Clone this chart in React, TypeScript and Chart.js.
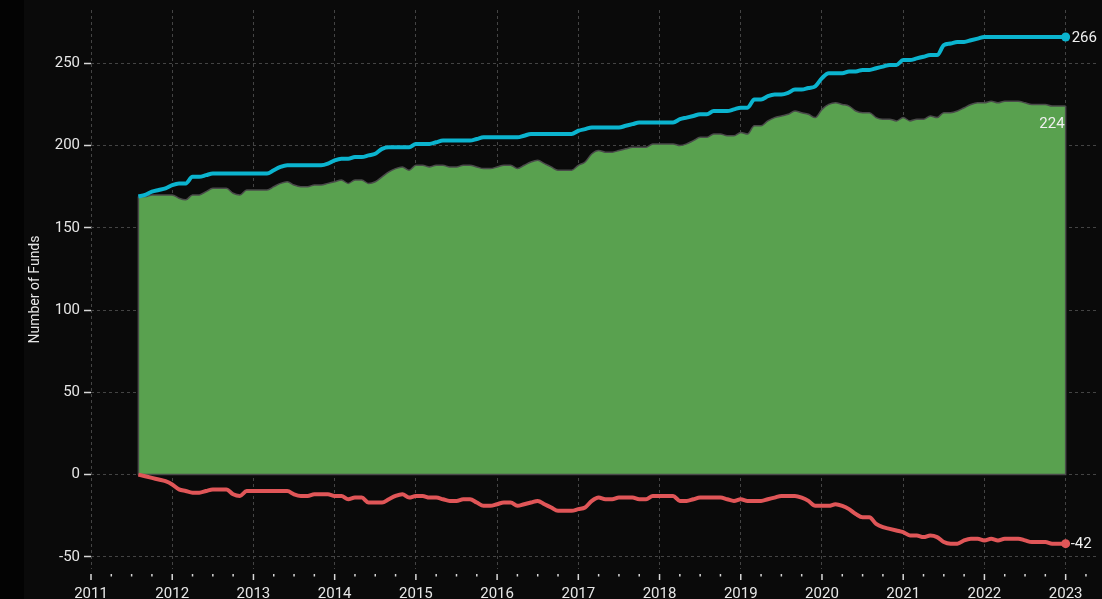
import { useEffect, useRef } from "react";
import { Chart, registerables } from "chart.js";

Chart.register(...registerables);

// First month of the series and the month count follow from the arrays
const startYear = 2011;
const startMonth = 8; // August 2011, monthly to January 2023

// Funds added (cumulative)
const added = [
  169, 170, 172, 173, 174, 176, 177, 177, 181, 181,
  182, 183, 183, 183, 183, 183, 183, 183, 183, 183,
  185, 187, 188, 188, 188, 188, 188, 188, 189, 191,
  192, 192, 193, 193, 194, 195, 198, 199, 199, 199,
  199, 201, 201, 201, 202, 203, 203, 203, 203, 203,
  204, 205, 205, 205, 205, 205, 205, 206, 207, 207,
  207, 207, 207, 207, 207, 209, 210, 211, 211, 211,
  211, 211, 212, 213, 214, 214, 214, 214, 214, 214,
  216, 217, 218, 219, 219, 221, 221, 221, 222, 223,
  223, 228, 228, 230, 231, 231, 232, 234, 234, 235,
  236, 241, 244, 244, 244, 245, 245, 246, 246, 247,
  248, 249, 249, 252, 252, 253, 254, 255, 255, 261,
  262, 263, 263, 264, 265, 266, 266, 266, 266, 266,
  266, 266, 266, 266, 266, 266, 266, 266,
];

// Funds removed (cumulative, negative)
const removed = [
  0, -1, -2, -3, -4, -6, -9, -10, -11, -11,
  -10, -9, -9, -9, -12, -13, -10, -10, -10, -10,
  -10, -10, -10, -12, -13, -13, -12, -12, -12, -13,
  -13, -15, -14, -14, -17, -17, -17, -15, -13, -12,
  -14, -13, -13, -14, -14, -15, -16, -16, -15, -15,
  -17, -19, -19, -18, -17, -17, -19, -18, -17, -16,
  -18, -20, -22, -22, -22, -21, -20, -16, -14, -15,
  -15, -14, -14, -14, -15, -15, -13, -13, -13, -13,
  -16, -16, -15, -14, -14, -14, -14, -15, -16, -15,
  -16, -16, -16, -15, -14, -13, -13, -13, -14, -16,
  -19, -19, -19, -18, -19, -21, -24, -26, -26, -30,
  -32, -33, -34, -35, -37, -37, -38, -37, -38, -41,
  -42, -42, -40, -39, -39, -40, -39, -40, -39, -39,
  -39, -40, -41, -41, -41, -42, -42, -42,
];

// Net number of funds
const net = [
  169, 169, 170, 170, 170, 170, 168, 167, 170, 170,
  172, 174, 174, 174, 171, 170, 173, 173, 173, 173,
  175, 177, 178, 176, 175, 175, 176, 176, 177, 178,
  179, 177, 179, 179, 177, 178, 181, 184, 186, 187,
  185, 188, 188, 187, 188, 188, 187, 187, 188, 188,
  187, 186, 186, 187, 188, 188, 186, 188, 190, 191,
  189, 187, 185, 185, 185, 188, 190, 195, 197, 196,
  196, 197, 198, 199, 199, 199, 201, 201, 201, 201,
  200, 201, 203, 205, 205, 207, 207, 206, 206, 208,
  207, 212, 212, 215, 217, 218, 219, 221, 220, 219,
  217, 222, 225, 226, 225, 224, 221, 220, 220, 217,
  216, 216, 215, 217, 215, 216, 216, 218, 217, 220,
  220, 221, 223, 225, 226, 226, 227, 226, 227, 227,
  227, 226, 225, 225, 225, 224, 224, 224,
];

const yTickStep = 50;
const xMin = 2011;
const xMax = 2023.39;
const yMin = -57.4;
const yMax = 282.4;

const BLUE = "#0bb4cf";
const RED = "#e05658";
const GREEN = "#59a14f";
const TEXT = "#e6e6e6";
const GRID = "#444444";
const FONT = "Roboto, 'DejaVu Sans', sans-serif";

const toYear = (i: number) => startYear + (startMonth - 1 + i) / 12;
const pts = (arr: number[]) => arr.map((v, i) => ({ x: toYear(i), y: v }));

const overlay = {
  id: "overlay",
  afterDatasetDraw(chart: any, args: any) {
    if (args.index !== 0) return;
    const data = args.meta.data;
    if (!data.length) return;
    const first = data[0];
    const last = data[data.length - 1];
    const y0 = chart.scales.y.getPixelForValue(0);
    const ctx = chart.ctx;
    ctx.save();
    ctx.strokeStyle = "#4a4a4a";
    ctx.lineWidth = 1.5;
    ctx.beginPath();
    ctx.moveTo(first.x, first.y);
    ctx.lineTo(first.x, y0);
    ctx.lineTo(last.x, y0);
    ctx.lineTo(last.x, last.y);
    ctx.stroke();
    ctx.restore();
  },
  afterDraw(chart: any) {
    const ctx = chart.ctx;
    const xs = chart.scales.x;
    const bottom = chart.chartArea.bottom;
    ctx.save();
    ctx.strokeStyle = "#d8d8d8";
    ctx.lineWidth = 1.5;
    for (const t of xs.ticks) {
      const px = xs.getPixelForValue(t.value);
      const major = Math.abs(t.value - Math.round(t.value)) < 1e-6;
      ctx.beginPath();
      ctx.moveTo(px, bottom + 5);
      ctx.lineTo(px, bottom + (major ? 11 : 7.5));
      ctx.stroke();
    }
    ctx.fillStyle = "#f0f0f0";
    ctx.font = `15px ${FONT}`;
    ctx.textBaseline = "middle";
    const addMeta = chart.getDatasetMeta(1).data;
    const remMeta = chart.getDatasetMeta(2).data;
    const netMeta = chart.getDatasetMeta(0).data;
    const a = addMeta[addMeta.length - 1];
    const r = remMeta[remMeta.length - 1];
    const n = netMeta[netMeta.length - 1];
    ctx.textAlign = "left";
    ctx.fillText(String(added[added.length - 1]), a.x + 6, a.y + 1);
    ctx.fillText(String(removed[removed.length - 1]), r.x + 5, r.y + 1);
    ctx.textAlign = "right";
    ctx.fillText(String(net[net.length - 1]), n.x - 1, n.y + 18);
    ctx.restore();
  },
};

export default function App() {
  const ref = useRef<HTMLCanvasElement | null>(null);

  useEffect(() => {
    if (!ref.current) return;
    const lastIdx = added.length - 1;
    const chart = new Chart(ref.current, {
      type: "line",
      data: {
        datasets: [
          {
            label: "Net",
            data: pts(net),
            borderColor: "#4a4a4a",
            borderWidth: 1.5,
            backgroundColor: GREEN,
            fill: "origin",
            pointRadius: 0,
            cubicInterpolationMode: "monotone",
            order: 3,
          },
          {
            label: "Added",
            data: pts(added),
            borderColor: BLUE,
            borderWidth: 4,
            fill: false,
            pointRadius: (c: any) => (c.dataIndex === lastIdx ? 4.5 : 0),
            pointBackgroundColor: BLUE,
            pointBorderWidth: 0,
            cubicInterpolationMode: "monotone",
            order: 1,
          },
          {
            label: "Removed",
            data: pts(removed),
            borderColor: RED,
            borderWidth: 4,
            fill: false,
            pointRadius: (c: any) => (c.dataIndex === lastIdx ? 4.5 : 0),
            pointBackgroundColor: RED,
            pointBorderWidth: 0,
            cubicInterpolationMode: "monotone",
            order: 2,
          },
        ],
      },
      options: {
        animation: false,
        responsive: false,
        events: [],
        layout: { padding: { top: 7, right: 0, left: 0, bottom: 0 } },
        plugins: { legend: { display: false }, tooltip: { enabled: false } },
        scales: {
          x: {
            type: "linear",
            min: xMin,
            max: xMax,
            border: { display: false, dash: [3, 3] },
            grid: {
              drawTicks: false,
              color: (c: any) =>
                Math.abs(c.tick.value - Math.round(c.tick.value)) < 1e-6 ? GRID : "rgba(0,0,0,0)",
              lineWidth: 1,
            },
            ticks: {
              stepSize: 0.25,
              includeBounds: false,
              autoSkip: false,
              maxRotation: 0,
              padding: 16,
              color: TEXT,
              font: { size: 15, family: FONT },
              callback: (v: any) => {
                const n = Number(v);
                return Math.abs(n - Math.round(n)) < 1e-6 ? String(Math.round(n)) : "";
              },
            },
            afterFit: (s: any) => {
              s.height = 30;
            },
          },
          y: {
            type: "linear",
            min: yMin,
            max: yMax,
            border: { display: false, dash: [3, 3] },
            grid: {
              color: GRID,
              lineWidth: 1,
              drawTicks: true,
              tickLength: 7,
              tickColor: "#d8d8d8",
              tickWidth: 1.5,
              tickBorderDash: [],
            },
            ticks: {
              stepSize: yTickStep,
              includeBounds: false,
              padding: 4,
              color: TEXT,
              font: { size: 15, family: FONT },
            },
            title: {
              display: true,
              text: "Number of Funds",
              color: TEXT,
              font: { size: 14, family: FONT },
              padding: { top: 27, bottom: 0 },
            },
            afterFit: (s: any) => {
              s.width = 91;
            },
          },
        },
      },
      plugins: [overlay],
    } as any);
    return () => chart.destroy();
  }, []);

  return (
    <div
      style={{
        position: "fixed",
        left: 0,
        top: 0,
        width: 1102,
        height: 599,
        overflow: "hidden",
        background: "#0a0a0a",
      }}
    >
      <div style={{ position: "absolute", left: 0, top: 0, width: 24, height: 599, background: "#030303" }} />
      <canvas ref={ref} width={1102} height={602} style={{ position: "absolute", left: 0, top: -3, display: "block" }} />
    </div>
  );
}
